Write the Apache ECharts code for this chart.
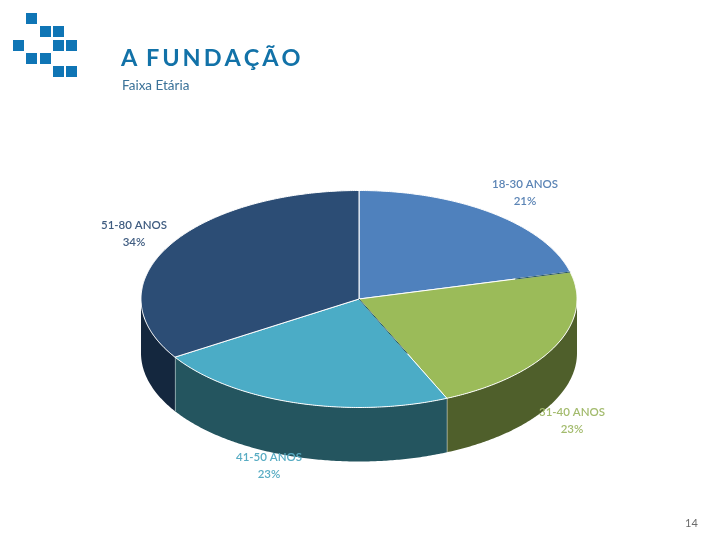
<!DOCTYPE html>
<html><head><meta charset="utf-8">
<style>html,body{margin:0;padding:0;background:#fff}#c{width:720px;height:540px}</style>
<script src="https://cdn.jsdelivr.net/npm/echarts@6/dist/echarts.min.js"></script>
</head><body><div id="c"></div>
<script>
const categories = ['18-30 ANOS', '31-40 ANOS', '41-50 ANOS', '51-80 ANOS'];
const values = [21, 22.4, 22.6, 34];
const percentLabels = ['21%', '23%', '23%', '34%'];
const topColors = ['#4f81bd', '#9bbb59', '#4bacc6', '#2c4d75'];
const wallColors = ['#2f4d71', '#4f5f2b', '#24555f', '#14273e'];
const labelColors = ['#5b84b5', '#a3bb6d', '#58acc3', '#3f5c80'];
const labelCenters = [[525, 192.5], [572, 421], [269, 466], [134, 233.5]];
const logoCells = [[26,13],[40,26],[53,26],[13,40],[53,40],[66,40],[26,53],[40,53],[53,66],[66,66]];

const CX = 359, CY = 299, RX = 218, RY = 108.5, DEPTH = 54;
const total = values.reduce((a, b) => a + b, 0);
const cumulative = [0];
values.forEach(v => cumulative.push(cumulative[cumulative.length - 1] + v));
const angleOf = c => c / total * Math.PI * 2;
const px = (t, d = 0, f = 1) => [CX + RX * f * Math.sin(t), CY - RY * f * Math.cos(t) + d];

function arc(t0, t1, d) {
  const n = Math.max(2, Math.ceil((t1 - t0) / 0.01)), pts = [];
  for (let i = 0; i <= n; i++) pts.push(px(t0 + (t1 - t0) * i / n, d));
  return pts;
}
function renderWall(params, api) {
  const i = params.dataIndex;
  const t0 = Math.max(angleOf(cumulative[i]), Math.PI / 2);
  const t1 = Math.min(angleOf(cumulative[i] + api.value(0)), Math.PI * 1.5);
  if (t1 <= t0) return null;
  const top = arc(t0, t1, 0), bottom = arc(t0, t1, DEPTH).reverse();
  const children = [{ type: 'polygon', shape: { points: top.concat(bottom) }, style: { fill: wallColors[i] } }];
  const edge = t1 < Math.PI * 1.5 ? t1 : null;
  if (edge !== null) {
    const a = px(edge), b = px(edge, DEPTH);
    children.push({ type: 'line', shape: { x1: a[0], y1: a[1], x2: b[0], y2: b[1] }, style: { stroke: '#fff', lineWidth: 1 } });
  }
  return { type: 'group', children };
}
function renderTop(params, api) {
  const i = params.dataIndex;
  const t0 = angleOf(cumulative[i]), t1 = angleOf(cumulative[i] + api.value(0));
  const pts = [[CX, CY]].concat(arc(t0, t1, 0));
  return { type: 'polygon', shape: { points: pts }, style: { fill: topColors[i], stroke: '#fff', lineWidth: 1, lineJoin: 'round' } };
}
function renderAccent(params, api) {
  const i = params.dataIndex;
  const t = angleOf(cumulative[i + 1]);
  const span = i === 0 ? [0.74, 1] : [0, 0.55];
  const a = px(t, 0, span[0]), b = px(t, 0, span[1]);
  if (i > 1) return null;
  return { type: 'line', shape: { x1: a[0], y1: a[1], x2: b[0], y2: b[1] }, style: { stroke: '#24555f', lineWidth: 1 } };
}
function renderLabel(params, api) {
  const i = params.dataIndex, c = labelCenters[i];
  return { type: 'text', style: {
    x: c[0], y: c[1], text: categories[i] + '\n' + percentLabels[i],
    fill: labelColors[i], font: '600 11.5px Lato, "Open Sans", sans-serif',
    align: 'center', verticalAlign: 'middle', lineHeight: 17
  } };
}
const rows = values.map(v => [v]);
const custom = (fn, z) => ({ type: 'custom', coordinateSystem: 'none', renderItem: fn, data: rows, z, silent: true, animation: false, clip: false });
const spaced = 'A \u2009F\u2009U\u2009N\u2009D\u2009A\u2009Ç\u2009Ã\u2009O';

const chart = echarts.init(document.getElementById('c'), null, { renderer: 'canvas' });
chart.setOption({
  animation: false,
  backgroundColor: '#fff',
  title: [
    { text: spaced, left: 121, top: 46, padding: 0,
      textStyle: { color: '#1272a8', fontSize: 23.5, fontWeight: 700, fontFamily: 'Lato, "Open Sans", sans-serif' } },
    { text: 'Faixa Etária', left: 122, top: 79, padding: 0,
      textStyle: { color: '#3a7299', fontSize: 13.5, fontWeight: 400, fontFamily: 'Lato, "Open Sans", sans-serif' } },
    { text: '14', left: 685, top: 518, padding: 0,
      textStyle: { color: '#6b6b6b', fontSize: 11, fontWeight: 400, fontFamily: 'Lato, "Open Sans", sans-serif' } }
  ],
  graphic: logoCells.map(c => ({ type: 'rect', x: c[0], y: c[1], shape: { width: 11, height: 11 }, style: { fill: '#0f75b5' }, silent: true })),
  series: [custom(renderWall, 1), custom(renderTop, 2), custom(renderAccent, 3), custom(renderLabel, 4)]
});
</script></body></html>
